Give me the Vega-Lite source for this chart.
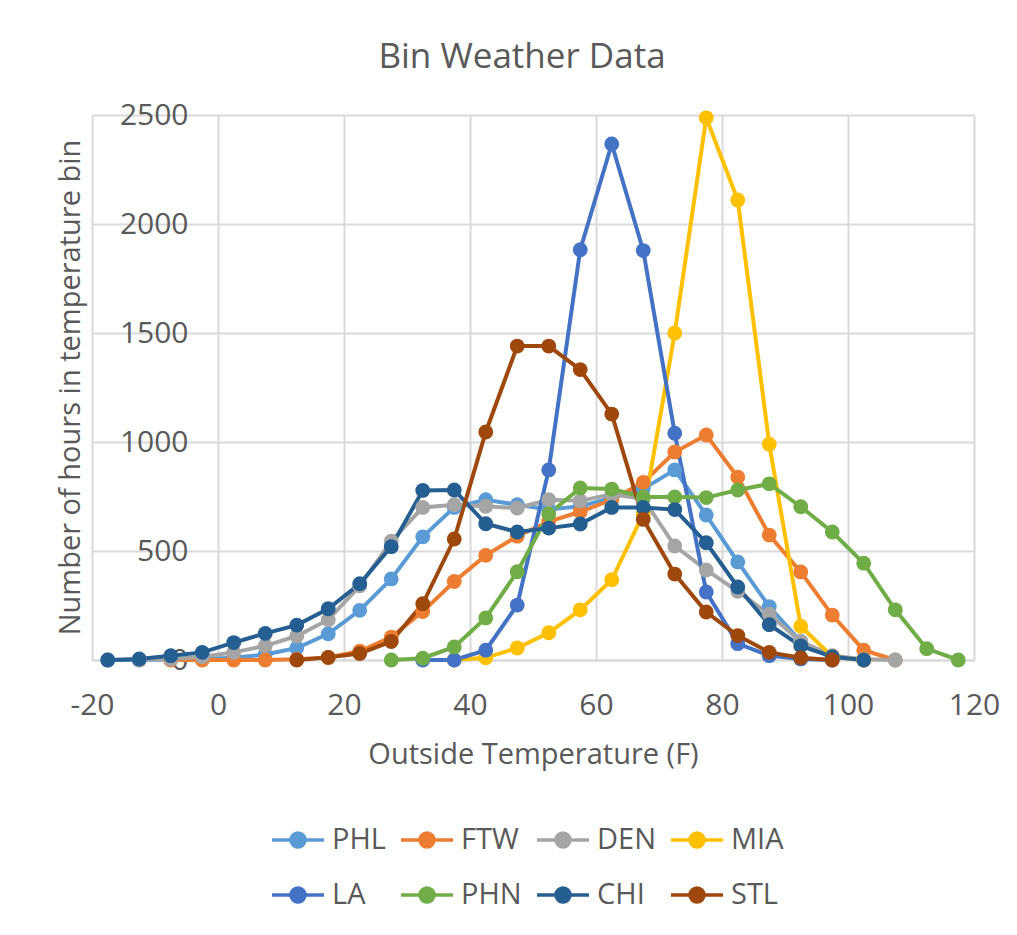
{
  "$schema": "https://vega.github.io/schema/vega-lite/v6.json",
  "width": 882,
  "height": 545,
  "autosize": {"type": "none"},
  "padding": {"left": 92, "top": 115, "right": 43, "bottom": 275},
  "background": "white",
  "title": {"text": "Bin Weather Data", "font": "Open Sans", "fontSize": 35, "fontWeight": "normal", "color": "#595959", "anchor": "middle", "offset": 25, "dx": -11},
  "config": {
    "view": {"stroke": null},
    "axis": {"labelFont": "Open Sans", "titleFont": "Open Sans", "labelColor": "#595959", "titleColor": "#595959", "titleFontWeight": "normal", "gridColor": "#D9D9D9", "gridWidth": 2, "labelFlush": false, "labelOverlap": false}
  },
  "data": {"values": [
    {"city":"PHL","temp":-17.5,"hours":0},{"city":"PHL","temp":-12.5,"hours":0},{"city":"PHL","temp":-7.5,"hours":2},{"city":"PHL","temp":-2.5,"hours":5},{"city":"PHL","temp":2.5,"hours":10},{"city":"PHL","temp":7.5,"hours":25},{"city":"PHL","temp":12.5,"hours":55},{"city":"PHL","temp":17.5,"hours":120},{"city":"PHL","temp":22.5,"hours":228},{"city":"PHL","temp":27.5,"hours":372},{"city":"PHL","temp":32.5,"hours":565},{"city":"PHL","temp":37.5,"hours":700},{"city":"PHL","temp":42.5,"hours":735},{"city":"PHL","temp":47.5,"hours":712},{"city":"PHL","temp":52.5,"hours":690},{"city":"PHL","temp":57.5,"hours":705},{"city":"PHL","temp":62.5,"hours":745},{"city":"PHL","temp":67.5,"hours":785},{"city":"PHL","temp":72.5,"hours":872},{"city":"PHL","temp":77.5,"hours":665},{"city":"PHL","temp":82.5,"hours":450},{"city":"PHL","temp":87.5,"hours":245},{"city":"PHL","temp":92.5,"hours":85},{"city":"PHL","temp":97.5,"hours":15},{"city":"PHL","temp":102.5,"hours":0},
    {"city":"FTW","temp":-7.5,"hours":0},{"city":"FTW","temp":-2.5,"hours":0},{"city":"FTW","temp":2.5,"hours":0},{"city":"FTW","temp":7.5,"hours":0},{"city":"FTW","temp":12.5,"hours":3},{"city":"FTW","temp":17.5,"hours":12},{"city":"FTW","temp":22.5,"hours":40},{"city":"FTW","temp":27.5,"hours":105},{"city":"FTW","temp":32.5,"hours":222},{"city":"FTW","temp":37.5,"hours":360},{"city":"FTW","temp":42.5,"hours":480},{"city":"FTW","temp":47.5,"hours":568},{"city":"FTW","temp":52.5,"hours":635},{"city":"FTW","temp":57.5,"hours":680},{"city":"FTW","temp":62.5,"hours":735},{"city":"FTW","temp":67.5,"hours":815},{"city":"FTW","temp":72.5,"hours":954},{"city":"FTW","temp":77.5,"hours":1032},{"city":"FTW","temp":82.5,"hours":839},{"city":"FTW","temp":87.5,"hours":573},{"city":"FTW","temp":92.5,"hours":404},{"city":"FTW","temp":97.5,"hours":206},{"city":"FTW","temp":102.5,"hours":45},{"city":"FTW","temp":107.5,"hours":0},
    {"city":"DEN","temp":-12.5,"hours":0},{"city":"DEN","temp":-7.5,"hours":5},{"city":"DEN","temp":-2.5,"hours":15},{"city":"DEN","temp":2.5,"hours":35},{"city":"DEN","temp":7.5,"hours":65},{"city":"DEN","temp":12.5,"hours":110},{"city":"DEN","temp":17.5,"hours":185},{"city":"DEN","temp":22.5,"hours":340},{"city":"DEN","temp":27.5,"hours":545},{"city":"DEN","temp":32.5,"hours":700},{"city":"DEN","temp":37.5,"hours":712},{"city":"DEN","temp":42.5,"hours":705},{"city":"DEN","temp":47.5,"hours":697},{"city":"DEN","temp":52.5,"hours":735},{"city":"DEN","temp":57.5,"hours":730},{"city":"DEN","temp":62.5,"hours":760},{"city":"DEN","temp":67.5,"hours":740},{"city":"DEN","temp":72.5,"hours":523},{"city":"DEN","temp":77.5,"hours":413},{"city":"DEN","temp":82.5,"hours":315},{"city":"DEN","temp":87.5,"hours":210},{"city":"DEN","temp":92.5,"hours":85},{"city":"DEN","temp":97.5,"hours":20},{"city":"DEN","temp":102.5,"hours":3},{"city":"DEN","temp":107.5,"hours":0},
    {"city":"MIA","temp":37.5,"hours":0},{"city":"MIA","temp":42.5,"hours":10},{"city":"MIA","temp":47.5,"hours":55},{"city":"MIA","temp":52.5,"hours":125},{"city":"MIA","temp":57.5,"hours":230},{"city":"MIA","temp":62.5,"hours":368},{"city":"MIA","temp":67.5,"hours":670},{"city":"MIA","temp":72.5,"hours":1500},{"city":"MIA","temp":77.5,"hours":2487},{"city":"MIA","temp":82.5,"hours":2110},{"city":"MIA","temp":87.5,"hours":990},{"city":"MIA","temp":92.5,"hours":155},{"city":"MIA","temp":97.5,"hours":15},{"city":"MIA","temp":102.5,"hours":0},
    {"city":"LA","temp":32.5,"hours":0},{"city":"LA","temp":37.5,"hours":0},{"city":"LA","temp":42.5,"hours":45},{"city":"LA","temp":47.5,"hours":252},{"city":"LA","temp":52.5,"hours":872},{"city":"LA","temp":57.5,"hours":1882},{"city":"LA","temp":62.5,"hours":2367},{"city":"LA","temp":67.5,"hours":1878},{"city":"LA","temp":72.5,"hours":1040},{"city":"LA","temp":77.5,"hours":312},{"city":"LA","temp":82.5,"hours":75},{"city":"LA","temp":87.5,"hours":20},{"city":"LA","temp":92.5,"hours":5},{"city":"LA","temp":97.5,"hours":0},
    {"city":"PHN","temp":27.5,"hours":0},{"city":"PHN","temp":32.5,"hours":8},{"city":"PHN","temp":37.5,"hours":60},{"city":"PHN","temp":42.5,"hours":193},{"city":"PHN","temp":47.5,"hours":405},{"city":"PHN","temp":52.5,"hours":670},{"city":"PHN","temp":57.5,"hours":789},{"city":"PHN","temp":62.5,"hours":784},{"city":"PHN","temp":67.5,"hours":748},{"city":"PHN","temp":72.5,"hours":748},{"city":"PHN","temp":77.5,"hours":745},{"city":"PHN","temp":82.5,"hours":780},{"city":"PHN","temp":87.5,"hours":808},{"city":"PHN","temp":92.5,"hours":703},{"city":"PHN","temp":97.5,"hours":587},{"city":"PHN","temp":102.5,"hours":444},{"city":"PHN","temp":107.5,"hours":230},{"city":"PHN","temp":112.5,"hours":52},{"city":"PHN","temp":117.5,"hours":0},
    {"city":"CHI","temp":-17.5,"hours":0},{"city":"CHI","temp":-12.5,"hours":5},{"city":"CHI","temp":-7.5,"hours":20},{"city":"CHI","temp":-2.5,"hours":35},{"city":"CHI","temp":2.5,"hours":80},{"city":"CHI","temp":7.5,"hours":122},{"city":"CHI","temp":12.5,"hours":160},{"city":"CHI","temp":17.5,"hours":235},{"city":"CHI","temp":22.5,"hours":350},{"city":"CHI","temp":27.5,"hours":520},{"city":"CHI","temp":32.5,"hours":778},{"city":"CHI","temp":37.5,"hours":780},{"city":"CHI","temp":42.5,"hours":625},{"city":"CHI","temp":47.5,"hours":587},{"city":"CHI","temp":52.5,"hours":605},{"city":"CHI","temp":57.5,"hours":624},{"city":"CHI","temp":62.5,"hours":700},{"city":"CHI","temp":67.5,"hours":700},{"city":"CHI","temp":72.5,"hours":690},{"city":"CHI","temp":77.5,"hours":538},{"city":"CHI","temp":82.5,"hours":335},{"city":"CHI","temp":87.5,"hours":162},{"city":"CHI","temp":92.5,"hours":65},{"city":"CHI","temp":97.5,"hours":15},{"city":"CHI","temp":102.5,"hours":0},
    {"city":"STL","temp":12.5,"hours":0},{"city":"STL","temp":17.5,"hours":12},{"city":"STL","temp":22.5,"hours":30},{"city":"STL","temp":27.5,"hours":85},{"city":"STL","temp":32.5,"hours":258},{"city":"STL","temp":37.5,"hours":555},{"city":"STL","temp":42.5,"hours":1046},{"city":"STL","temp":47.5,"hours":1440},{"city":"STL","temp":52.5,"hours":1440},{"city":"STL","temp":57.5,"hours":1332},{"city":"STL","temp":62.5,"hours":1128},{"city":"STL","temp":67.5,"hours":645},{"city":"STL","temp":72.5,"hours":394},{"city":"STL","temp":77.5,"hours":220},{"city":"STL","temp":82.5,"hours":112},{"city":"STL","temp":87.5,"hours":35},{"city":"STL","temp":92.5,"hours":10},{"city":"STL","temp":97.5,"hours":0}
  ]},
  "encoding": {
    "x": {"field": "temp", "type": "quantitative", "scale": {"domain": [-20, 120], "nice": false, "zero": false},
      "axis": {"values": [-20, 0, 20, 40, 60, 80, 100, 120], "labelExpr": "toString(datum.value)", "title": "Outside Temperature (F)", "labelFontSize": 30, "titleFontSize": 29, "ticks": false, "domain": true, "domainColor": "#D9D9D9", "domainWidth": 2, "labelPadding": 30, "titlePadding": 20, "grid": true}},
    "y": {"field": "hours", "type": "quantitative", "scale": {"domain": [0, 2500], "nice": false},
      "axis": {"values": [0, 500, 1000, 1500, 2000, 2500], "format": "d", "title": "Number of hours in temperature bin", "labelFontSize": 30, "titleFontSize": 29, "ticks": false, "domain": false, "offset": -126, "labelPadding": 30, "grid": true, "titleX": -148, "titleY": 272, "titleAngle": -90, "titleAlign": "center", "titleBaseline": "middle"}},
    "color": {"field": "city", "type": "nominal",
      "scale": {"domain": ["PHL", "FTW", "DEN", "MIA", "LA", "PHN", "CHI", "STL"], "range": ["#5B9BD5", "#ED7D31", "#A5A5A5", "#FFC000", "#4472C4", "#70AD47", "#255E91", "#9E480E"]},
      "legend": {"title": null, "orient": "none", "legendX": 178, "legendY": 697, "direction": "horizontal", "columns": 4, "padding": 0, "rowPadding": 12, "columnPadding": 8, "labelOffset": 6, "labelFontSize": 29, "labelFont": "Open Sans", "labelColor": "#595959", "symbolType": "M-1,0H1M-0.27,0A0.27,0.27 0 1,0 0.27,0A0.27,0.27 0 1,0 -0.27,0Z", "symbolSize": 2704, "symbolStrokeWidth": 3.5,
        "encode": {"symbols": {"update": {"fill": {"scale": "color", "field": "value"}, "stroke": {"scale": "color", "field": "value"}, "opacity": {"value": 1}}}}}}
  },
  "layer": [
    {"mark": {"type": "line", "strokeWidth": 4}},
    {"mark": {"type": "point", "filled": true, "size": 220, "opacity": 1}}
  ]
}
